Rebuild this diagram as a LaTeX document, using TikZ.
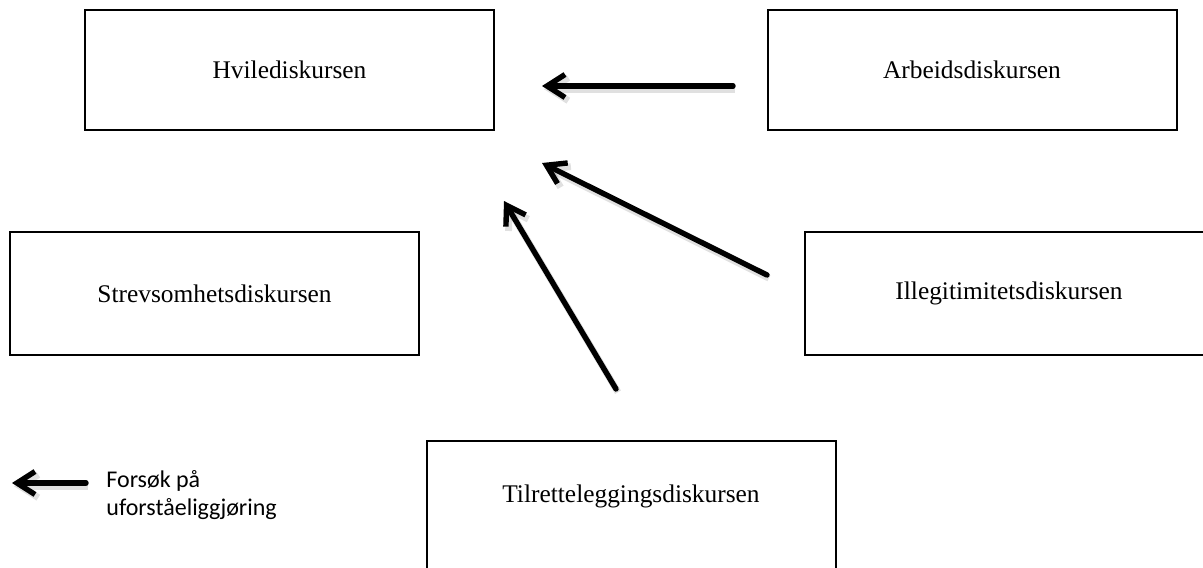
\documentclass[tikz,border=0pt]{standalone}
\usepackage{fontspec}
\setmainfont{Liberation Serif}
\newfontfamily\legendfont{Carlito}
\usetikzlibrary{arrows.meta}

\begin{document}
\begin{tikzpicture}[x=0.5pt,y=-0.5pt,
  diskurs/.style={draw,line width=1pt,minimum width=204.5pt,minimum height=61.5pt,font=\fontsize{12.7}{15}\selectfont},
  forsok/.style={line width=2.7pt,line cap=round,-{Straight Barb[length=9pt,width=11.5pt]},
    preaction={draw,black,opacity=0.12,line width=3.4pt,transform canvas={shift={(1pt,-1.6pt)}}}}]
  \useasboundingbox (0,0) rectangle (1203,567);
  \node[diskurs,minimum height=60pt] (hvile) at (289.5,70) {Hvilediskursen};
  \node[diskurs,minimum height=60pt] (arbeid) at (972,70) {Arbeidsdiskursen};
  \node[diskurs] (strev) at (214.5,293.5) {Strevsomhetsdiskursen};
  \node[diskurs] (illegitim) at (1009,293.5) {Illegitimitetsdiskursen};
  \node[diskurs,minimum height=70pt,text depth=17pt] (tilrette) at (631,511) {Tilretteleggingsdiskursen};
  \coordinate (arbeid-fra) at (733,86);
  \coordinate (arbeid-til) at (542,86);
  \coordinate (illegitim-fra) at (767,275);
  \coordinate (illegitim-til) at (542,163);
  \coordinate (tilrette-fra) at (616,389);
  \coordinate (tilrette-til) at (504,201);
  \coordinate (tegn-fra) at (86,483);
  \coordinate (tegn-til) at (12,483);
  \draw[forsok] (arbeid-fra) -- (arbeid-til);
  \draw[forsok] (illegitim-fra) -- (illegitim-til);
  \draw[forsok] (tilrette-fra) -- (tilrette-til);
  \draw[forsok] (tegn-fra) -- (tegn-til);
  \node[font=\legendfont\fontsize{12}{14}\selectfont,align=left,anchor=base west,inner sep=0pt] (forklaring) at (106,515) {Forsøk på\\uforståeliggjøring};
\end{tikzpicture}
\end{document}
